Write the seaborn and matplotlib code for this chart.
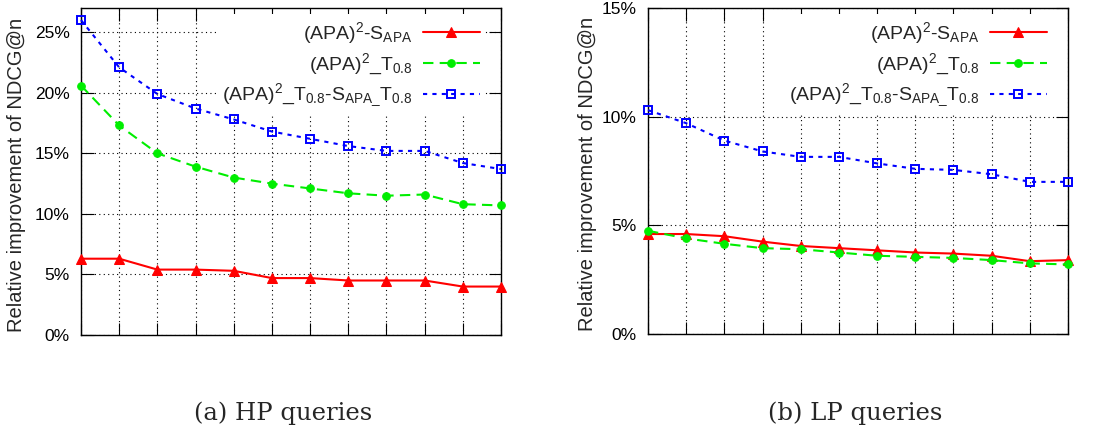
import seaborn as sns
import matplotlib.pyplot as plt
import matplotlib.ticker as mticker
import numpy as np

# n = 1..12 (NDCG@n), no tick labels on x in the original
n_vals = list(range(1, 13))

# (a) HP queries, relative improvement in %
hp_s_apa = [6.3, 6.3, 5.4, 5.4, 5.3, 4.7, 4.7, 4.5, 4.5, 4.5, 4.0, 4.0]
hp_t08 = [20.6, 17.3, 15.0, 13.9, 13.0, 12.5, 12.1, 11.7, 11.5, 11.6, 10.8, 10.7]
hp_both = [26.0, 22.1, 19.9, 18.7, 17.8, 16.8, 16.2, 15.6, 15.2, 15.2, 14.2, 13.7]

# (b) LP queries
lp_s_apa = [4.6, 4.6, 4.5, 4.25, 4.05, 3.95, 3.85, 3.75, 3.7, 3.6, 3.35, 3.4]
lp_t08 = [4.75, 4.4, 4.15, 3.95, 3.9, 3.75, 3.6, 3.55, 3.5, 3.4, 3.25, 3.2]
lp_both = [10.3, 9.7, 8.9, 8.4, 8.15, 8.15, 7.85, 7.6, 7.55, 7.35, 7.0, 7.0]

labels = [r'(APA)$^{2}$-S$_{\mathrm{APA}}$',
          r'(APA)$^{2}$_T$_{0.8}$',
          r'(APA)$^{2}$_T$_{0.8}$-S$_{\mathrm{APA\_}}$T$_{0.8}$']
captions = ["(a) HP queries", "(b) LP queries"]
y_max = [27, 15]
y_ticks = [[0, 5, 10, 15, 20, 25], [0, 5, 10, 15]]

sns.set_style("ticks")
plt.rcParams['font.family'] = ['Liberation Sans', 'DejaVu Sans']
plt.rcParams['mathtext.fontset'] = 'custom'
plt.rcParams['mathtext.rm'] = 'Liberation Sans'
plt.rcParams['mathtext.it'] = 'Liberation Sans'
plt.rcParams['mathtext.bf'] = 'Liberation Sans:bold'

fig = plt.figure(figsize=(11, 4.37), dpi=100)
ax1 = fig.add_axes([81/1100, 102/437, 420/1100, 327/437])
ax2 = fig.add_axes([648/1100, 103/437, 420/1100, 326/437])

series = [(hp_s_apa, hp_t08, hp_both), (lp_s_apa, lp_t08, lp_both)]

for k, (ax, data) in enumerate(zip([ax1, ax2], series)):
    s_apa, t08, both = data
    sns.lineplot(x=n_vals, y=s_apa, ax=ax, color='#ff0000', marker='^',
                 markersize=7, markeredgecolor='#ff0000', linewidth=1.5,
                 label=labels[0], clip_on=False, zorder=3)
    sns.lineplot(x=n_vals, y=t08, ax=ax, color='#00ee00', marker='o',
                 markersize=5.5, markeredgecolor='#00ee00', linewidth=1.5,
                 linestyle=(0, (5, 3)), label=labels[1], clip_on=False, zorder=3)
    sns.lineplot(x=n_vals, y=both, ax=ax, color='#0000ff', marker='s',
                 markersize=5.5, markerfacecolor='none', markeredgecolor='#0000ff',
                 markeredgewidth=1.4, linewidth=1.5, linestyle=(0, (2, 2.5)),
                 label=labels[2], clip_on=False, zorder=3)

    ax.set_xlim(1, 12)
    ax.set_ylim(0, y_max[k])
    ax.set_xticks(n_vals)
    ax.set_xticklabels([])
    ax.set_yticks(y_ticks[k])
    ax.yaxis.set_major_formatter(mticker.FormatStrFormatter('%d%%'))
    ax.tick_params(direction='in', length=9, width=0.8, top=True, right=True,
                   labelsize=12.5, pad=8, colors='black')
    ax.grid(True, linestyle=(0, (1, 3)), color='black', linewidth=0.8)
    for sp in ax.spines.values():
        sp.set_color('black')
        sp.set_linewidth(1.0)
    ax.set_ylabel("Relative improvement of NDCG@n", fontsize=14.5)
    ax.yaxis.set_label_coords(-0.13 if k == 0 else -0.121, 0.49)

    # markerfirst=False right-aligns the entries, like a gnuplot key
    leg = ax.legend(loc='upper right', bbox_to_anchor=(1.0, 1.028), markerfirst=False,
                    frameon=True, fancybox=False, framealpha=1.0, edgecolor='none',
                    facecolor='white', fontsize=14, handlelength=2.9,
                    handletextpad=0.55, labelspacing=0.27, borderpad=0.3,
                    borderaxespad=0.8)
    leg.set_zorder(2)

    fig.text((283 if k == 0 else 855)/1100, 1 - 413/437, captions[k],
             family='DejaVu Serif', fontsize=17.5, ha='center', va='center')

fig.savefig("out.png", dpi=100)
